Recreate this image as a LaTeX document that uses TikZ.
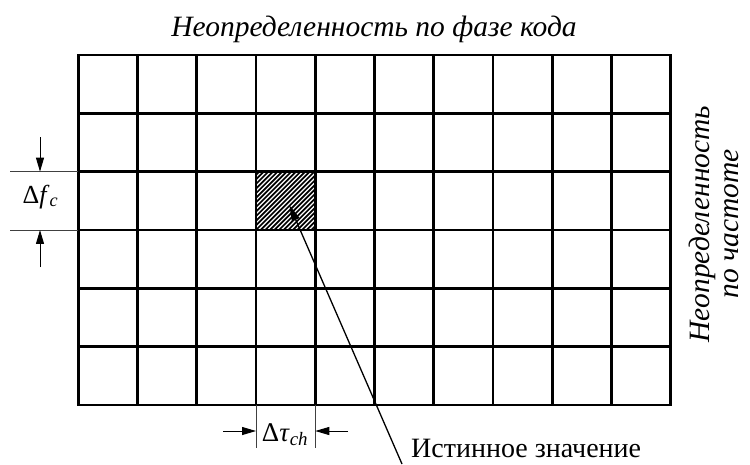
\documentclass[tikz,border=0pt]{standalone}
\usepackage{fontspec}
\setmainfont{Liberation Serif}
\usetikzlibrary{arrows.meta}
\tikzset{
  gridline/.style={line width=2.8pt, line cap=rect},
  extline/.style={line width=0.8pt, black!75},
  dimarrow/.style={line width=1pt, -{Triangle[length=14pt,width=8pt]}},
  leader/.style={line width=1.3pt, {Triangle[length=16pt,width=8pt]}-},
  lbl/.style={inner sep=0pt, font=\fontsize{26}{28}\selectfont},
  lblit/.style={inner sep=0pt, font=\fontsize{29.5}{29}\selectfont\itshape},
}
\begin{document}
\begin{tikzpicture}[x=1pt,y=-1pt]
\useasboundingbox (0,0) rectangle (750,464);
\def\xa{78.3}\def\ya{55}\def\cw{59.24}\def\ch{58.33}
% hatched cell
\node[draw=none, minimum width=\cw pt, minimum height=\ch pt, inner sep=0pt] (cell) at ({\xa+3.5*\cw},{\ya+2.5*\ch}) {};
\begin{scope}
  \clip (cell.north west) rectangle (cell.south east);
  \foreach \k in {-14,...,14}
    \draw[line width=1.7pt] ({\xa+3*\cw+\k*4.6},{\ya+3*\ch}) -- ++(70,-70);
\end{scope}
% grid
\foreach \i in {0,...,10}
  \draw[gridline] ({\xa+\i*\cw},\ya) -- ({\xa+\i*\cw},{\ya+6*\ch});
\foreach \j in {0,...,6}
  \draw[gridline] (\xa,{\ya+\j*\ch}) -- ({\xa+10*\cw},{\ya+\j*\ch});
% title
\node[lblit, anchor=base] (title) at (374,36) {Неопределенность по фазе кода};
% right label
\node[lblit, rotate=90, align=center] (rlabel) at (714,224) {Неопределенность\\по частоте};
% delta f_c
\coordinate (fa1) at (10,{\ya+2*\ch});
\coordinate (fa2) at (\xa,{\ya+2*\ch});
\coordinate (fb1) at (10,{\ya+3*\ch});
\coordinate (fb2) at (\xa,{\ya+3*\ch});
\draw[extline] (fa1) -- (fa2);
\draw[extline] (fb1) -- (fb2);
\coordinate (ftop) at (40,137);
\coordinate (ftoptip) at (40,{\ya+2*\ch});
\coordinate (fbot) at (40,267);
\coordinate (fbottip) at (40,{\ya+3*\ch});
\draw[dimarrow] (ftop) -- (ftoptip);
\draw[dimarrow] (fbot) -- (fbottip);
\node[lbl, anchor=base] (df) at (40.5,203) {Δ\textit{f}\textsubscript{\textit{c}}};
% delta tau_ch
\coordinate (ta1) at ({\xa+3*\cw},{\ya+6*\ch});
\coordinate (ta2) at ({\xa+3*\cw},448);
\coordinate (tb1) at ({\xa+4*\cw},{\ya+6*\ch});
\coordinate (tb2) at ({\xa+4*\cw},448);
\draw[extline] (ta1) -- (ta2);
\draw[extline] (tb1) -- (tb2);
\coordinate (tl) at (223,431);
\coordinate (tltip) at ({\xa+3*\cw},431);
\coordinate (tr) at (348,431);
\coordinate (trtip) at ({\xa+4*\cw},431);
\draw[dimarrow] (tl) -- (tltip);
\draw[dimarrow] (tr) -- (trtip);
\node[lbl, anchor=base, font=\fontsize{27}{28}\selectfont] (dt) at (285,441) {Δ\textit{τ}\textsubscript{\textit{ch}}};
% true value
\coordinate (tip) at (289.3,205);
\coordinate (lend) at (402,464);
\draw[leader] (tip) -- (lend);
\node[lbl, anchor=base west, font=\fontsize{28}{30}\selectfont] (truth) at (411,457) {Истинное значение};
\end{tikzpicture}
\end{document}
